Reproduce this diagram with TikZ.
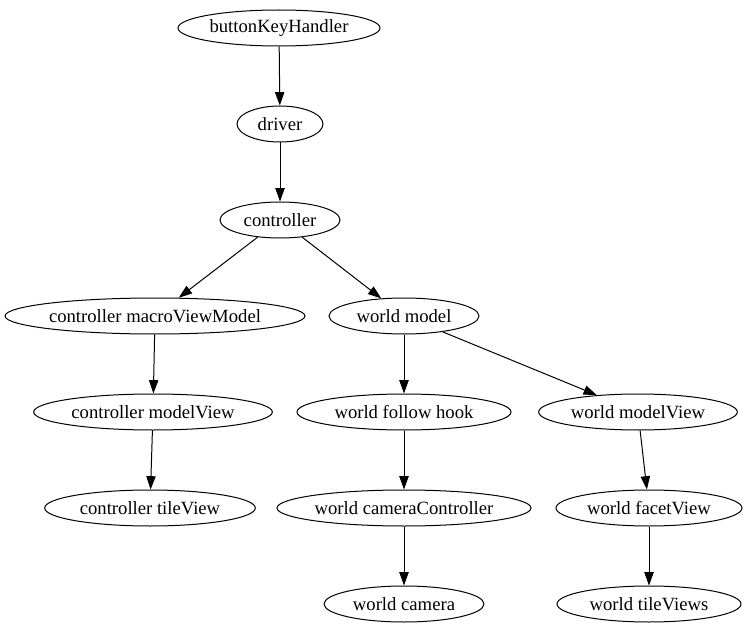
\documentclass[tikz,border=0pt]{standalone}
\usepackage{fontspec}
\setmainfont{Liberation Serif}
\usetikzlibrary{shapes.geometric,arrows.meta}
\tikzset{
  oval/.style={draw,ellipse,inner sep=0pt,minimum height=27pt},
  link/.style={-{Triangle[length=10pt,width=7pt]}}
}
\begin{document}
\begin{tikzpicture}[x=0.75pt,y=-0.75pt,line width=0.75pt,font=\fontsize{14}{16}\selectfont]
  \useasboundingbox (0,0) rectangle (747,635);
  \node[oval,minimum width=151.5pt] (bkh) at (279,28) {buttonKeyHandler};
  \node[oval,minimum width=64.5pt] (drv) at (280,124) {driver};
  \node[oval,minimum width=90pt] (ctl) at (280,220) {controller};
  \node[oval,minimum width=225pt] (cmvm) at (155,316) {controller macroViewModel};
  \node[oval,minimum width=112.5pt] (wm) at (404,316) {world model};
  \node[oval,minimum width=179pt] (cmv) at (153,412) {controller modelView};
  \node[oval,minimum width=160.5pt] (wfh) at (404,412) {world follow hook};
  \node[oval,minimum width=149pt] (wmv) at (638,412) {world modelView};
  \node[oval,minimum width=158pt] (ctv) at (150,508) {controller tileView};
  \node[oval,minimum width=190.5pt] (wcc) at (404,508) {world cameraController};
  \node[oval,minimum width=139.5pt] (wfv) at (649,508) {world facetView};
  \node[oval,minimum width=120pt] (wc) at (404,604) {world camera};
  \node[oval,minimum width=138pt] (wtv) at (649,604) {world tileViews};
  % edges
  \draw[link] (bkh) -- (drv);
  \draw[link] (drv) -- (ctl);
  \draw[link] (ctl) -- (cmvm);
  \draw[link] (ctl) -- (wm);
  \draw[link] (cmvm) -- (cmv);
  \draw[link] (cmv) -- (ctv);
  \draw[link] (wm) -- (wfh);
  \draw[link] (wm) -- (wmv);
  \draw[link] (wfh) -- (wcc);
  \draw[link] (wcc) -- (wc);
  \draw[link] (wmv) -- (wfv);
  \draw[link] (wfv) -- (wtv);
\end{tikzpicture}
\end{document}
